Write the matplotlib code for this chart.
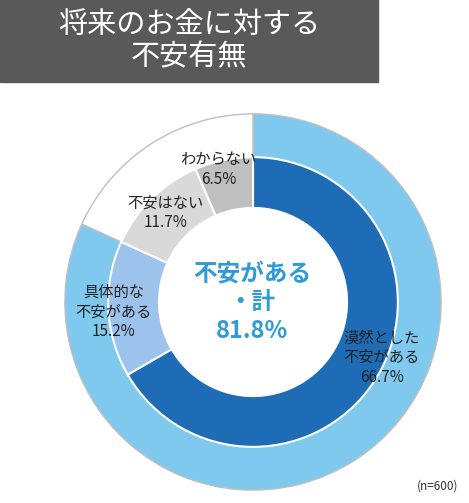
import matplotlib.pyplot as plt
from matplotlib.patches import Rectangle, Circle

plt.rcParams['font.family'] = ['Noto Sans CJK JP', 'DejaVu Sans']

# data
outer_vals = [81.8, 18.2]
outer_colors = ["#7FC9EE", "#FFFFFF"]
inner_vals = [66.7, 15.2, 11.7, 6.5]
inner_colors = ["#1F6CB6", "#9CC3EC", "#D9D9D9", "#BFBFBF"]
inner_labels = ["漠然とした\n不安がある\n66.7%", "具体的な\n不安がある\n15.2%",
                "不安はない\n11.7%", "わからない\n6.5%"]

W, H = 469, 503
fig = plt.figure(figsize=(W / 100, H / 100), dpi=100)

# title box
fig.patches.append(Rectangle((0, 1 - 82 / H), 378 / W, 82 / H, transform=fig.transFigure,
                             color="#595959", zorder=0))
fig.text(189 / W, 1 - 41 / H, "将来のお金に対する\n不安有無", color="white", fontsize=21,
         ha="center", va="center", linespacing=1.1)

cx, cy, R = 253, 302, 190
ax = fig.add_axes([(cx - R) / W, (H - cy - R) / H, 2 * R / W, 2 * R / H])
ax.pie(outer_vals, colors=outer_colors, radius=1, startangle=90, counterclock=False,
       wedgeprops=dict(width=0.25, edgecolor="#BFBFBF", linewidth=1))
ax.pie(inner_vals, colors=inner_colors, radius=0.77, startangle=90, counterclock=False,
       wedgeprops=dict(width=0.27, edgecolor="white", linewidth=1.5))
ax.add_patch(Circle((0, 0), 0.5, color="white", zorder=0))
ax.set_xlim(-1.01, 1.01)
ax.set_ylim(-1.01, 1.01)
ax.set_aspect("equal")
ax.axis("off")

def pos(px, py):
    return (px - cx) / R, (cy - py) / R

label_pos = [(383, 358), (112, 312), (165, 212), (218, 168)]
for lab, (px, py) in zip(inner_labels, label_pos):
    ax.text(*pos(px, py), lab, ha="center", va="center", fontsize=11, linespacing=1.2,
            color="#222222")

ax.text(*pos(252, 302), "不安がある\n・計\n81.8%", ha="center", va="center", fontsize=17,
        fontweight="bold", color="#2E9BD6", linespacing=1.25)

fig.text(438 / W, 1 - 486 / H, "(n=600)", ha="center", va="center", fontsize=8.5, color="#333333")

fig.savefig("out.png", dpi=100)
